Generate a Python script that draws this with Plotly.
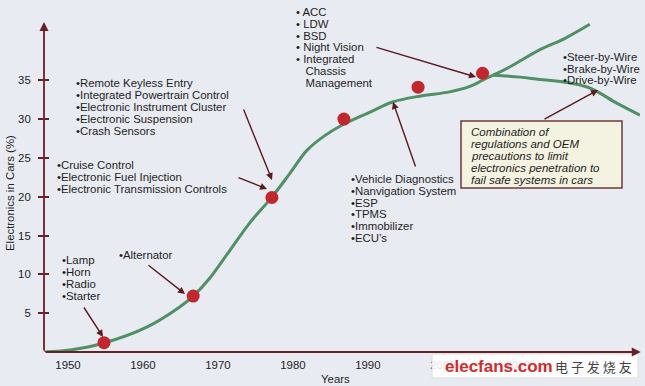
import plotly.graph_objects as go

# ---------------- data ----------------
curve_years = [1946.8, 1950.3, 1954.8, 1960.5, 1964.9, 1966.7, 1968.9, 1971.6, 1974.3, 1977.2,
               1979.6, 1981.9, 1984.3, 1986.7, 1990.3, 1993.3, 1996.9, 2000.9, 2003.6, 2005.3, 2006.7]
curve_values = [0.0, 0.26, 1.16, 3.2, 5.8, 7.2, 9.5, 13.1, 16.7, 19.95,
                23.0, 26.0, 27.9, 29.3, 30.9, 32.2, 32.95, 33.5, 34.2, 35.0, 35.65]
upper_years = [2006.7, 2008.9, 2012.9, 2016.3, 2019.6]
upper_values = [35.65, 36.7, 38.9, 40.4, 42.2]
lower_years = [2006.7, 2010.3, 2012.9, 2016.3, 2019.6, 2023.2, 2026.3]
lower_values = [35.65, 35.4, 35.1, 34.75, 34.0, 32.05, 30.5]

dot_years = [1954.8, 1966.7, 1977.2, 1986.8, 1996.7, 2005.3]
dot_values = [1.2, 7.2, 19.9, 30.0, 34.1, 35.9]

x_ticks = [1950, 1960, 1970, 1980, 1990, 2000, 2010]
y_ticks = [5, 10, 15, 20, 25, 30, 35]

block_lamp = ["•Lamp", "•Horn", "•Radio", "•Starter"]
block_alt = ["•Alternator"]
block_cruise = ["•Cruise Control", "•Electronic Fuel Injection", "•Electronic Transmission Controls"]
block_remote = ["•Remote Keyless Entry", "•Integrated Powertrain Control",
                "•Electronic Instrument Cluster", "•Electronic Suspension", "•Crash Sensors"]
block_acc = ["• ACC", "• LDW", "• BSD", "• Night Vision", "• Integrated", "   Chassis", "   Management"]
block_vd = ["•Vehicle Diagnostics", "•Nanvigation System", "•ESP", "•TPMS", "•Immobilizer", "•ECU’s"]
block_wire = ["•Steer-by-Wire", "•Brake-by-Wire", "•Drive-by-Wire"]
block_box = ["Combination of", "regulations and OEM", "precautions to limit",
             "electronics penetration to", "fail safe systems in cars"]

# ---------------- layout constants ----------------
W, H = 645, 386
L, R, T, B = 44, 5, 22, 34
PW, PH = W - L - R, H - T - B
X_RANGE = [1946.8, 2026.3]
Y_RANGE = [0, 42.5]

BG = "#e9ebf2"
AXC = "#6b1f25"
ARROWC = "#5a1a1f"
GREEN = "#4f9165"
RED = "#c1272d"
TXT = "#1e1e1e"
FONT = "Liberation Sans, Arial, Helvetica, sans-serif"
FS = 11.4


def PX(x):
    return (x - L) / PW


def PY(y):
    return (H - B - y) / PH


fig = go.Figure()

fig.add_trace(go.Scatter(x=curve_years, y=curve_values, mode="lines",
                         line=dict(color=GREEN, width=3, shape="spline"), hoverinfo="skip"))
fig.add_trace(go.Scatter(x=upper_years, y=upper_values, mode="lines",
                         line=dict(color=GREEN, width=3, shape="spline"), hoverinfo="skip"))
fig.add_trace(go.Scatter(x=lower_years, y=lower_values, mode="lines",
                         line=dict(color=GREEN, width=3, shape="spline"), hoverinfo="skip"))
fig.add_trace(go.Scatter(x=dot_years, y=dot_values, mode="markers",
                         marker=dict(color=RED, size=13, line=dict(width=0)), hoverinfo="skip"))
fig.add_trace(go.Scatter(x=[], y=[], yaxis="y2", hoverinfo="skip"))

annotations = []


def add_lines(lines, x, y0, dy=12, size=FS, italic=False):
    for i, t in enumerate(lines):
        annotations.append(dict(
            x=PX(x), y=PY(y0 + i * dy), xref="paper", yref="paper",
            text=("<i>%s</i>" % t) if italic else t, showarrow=False,
            xanchor="left", yanchor="middle", borderpad=0,
            font=dict(family=FONT, size=size, color=TXT)))


add_lines(block_lamp, 61, 260)
add_lines(block_alt, 118, 255)
add_lines(block_cruise, 56, 165)
add_lines(block_remote, 75, 83)
add_lines(block_acc, 295, 12, dy=11.8)
add_lines(block_vd, 350, 179, dy=11.8)
add_lines(block_wire, 562, 57, dy=11.6)
add_lines(block_box, 470, 132, dy=12, size=11.5, italic=True)

# arrows (tail -> head in pixels)
arrows = [((83, 306), (103, 337)), ((147, 264), (185, 294)), ((243, 108), (272, 180)),
          ((237, 177), (267, 189)), ((375, 47), (476, 77)), ((416, 168), (393, 102)),
          ((543, 120), (598, 90))]
for (tx, ty), (hx, hy) in arrows:
    annotations.append(dict(x=PX(hx), y=PY(hy), xref="paper", yref="paper",
                            ax=tx - hx, ay=ty - hy, text="", showarrow=True,
                            arrowhead=2, arrowsize=1.0, arrowwidth=1.4, arrowcolor=ARROWC,
                            standoff=0))

# axis lines with arrowheads
annotations.append(dict(x=X_RANGE[0], y=Y_RANGE[1], xref="x", yref="y",
                        ax=X_RANGE[0], ay=0, axref="x", ayref="y", text="", showarrow=True,
                        arrowhead=2, arrowsize=1, arrowwidth=1.8, arrowcolor=AXC, standoff=0))
annotations.append(dict(x=X_RANGE[1] + 0.1, y=0, xref="x", yref="y",
                        ax=X_RANGE[0], ay=0, axref="x", ayref="y", text="", showarrow=True,
                        arrowhead=2, arrowsize=1, arrowwidth=1.8, arrowcolor=AXC, standoff=0))

# axis titles
annotations.append(dict(x=PX(335), y=PY(379), xref="paper", yref="paper", text="Years",
                        showarrow=False, xanchor="center", yanchor="middle", borderpad=0,
                        font=dict(family=FONT, size=FS, color=TXT)))
annotations.append(dict(x=PX(10), y=PY(193), xref="paper", yref="paper",
                        text="Electronics in Cars (%)", textangle=-90, borderpad=0,
                        showarrow=False, xanchor="center", yanchor="middle",
                        font=dict(family=FONT, size=FS, color=TXT)))

# watermark
annotations.append(dict(x=PX(444), y=PY(366), xref="paper", yref="paper",
                        text="<b>elecfans.com</b>", showarrow=False, xanchor="left", yanchor="middle",
                        borderpad=0, font=dict(family=FONT, size=17, color="#d42a2a")))
annotations.append(dict(x=PX(554), y=PY(366), xref="paper", yref="paper",
                        text="电 子 发 烧 友", showarrow=False, xanchor="left", yanchor="middle",
                        borderpad=0, font=dict(family="Noto Sans CJK SC", size=13, color="#444444")))

shapes = [
    dict(type="rect", xref="paper", yref="paper", x0=PX(461), x1=PX(622), y0=PY(121), y1=PY(188),
         fillcolor="#f4f3e1", line=dict(color="#6e3a3a", width=1.5), layer="above"),
    dict(type="rect", xref="paper", yref="paper", x0=PX(432), x1=PX(638), y0=PY(354), y1=PY(378),
         fillcolor="rgba(255,255,255,0.88)", line=dict(color="#dddddd", width=1), layer="above"),
]

fig.update_layout(
    width=W, height=H,
    margin=dict(l=L, r=R, t=T, b=B, pad=0, autoexpand=False),
    paper_bgcolor=BG, plot_bgcolor=BG,
    showlegend=False,
    font=dict(family=FONT, size=FS, color=TXT),
    xaxis=dict(range=X_RANGE, tickvals=x_ticks, ticktext=[str(v) for v in x_ticks],
               showgrid=False, zeroline=False, showline=False, ticks="", automargin=False,
               ticklabelstandoff=5, tickfont=dict(size=FS, color=TXT)),
    yaxis=dict(range=Y_RANGE, tickvals=y_ticks, ticktext=[str(v) for v in y_ticks],
               showgrid=False, zeroline=False, showline=False, ticks="outside", automargin=False,
               ticklen=5, tickwidth=1.5, tickcolor=AXC, ticklabelstandoff=5,
               tickfont=dict(size=FS, color=TXT)),
    yaxis2=dict(range=Y_RANGE, tickvals=y_ticks, overlaying="y", side="left", automargin=False,
                showgrid=False, zeroline=False, showline=False, ticks="inside",
                ticklen=5, tickwidth=1.5, tickcolor=AXC, showticklabels=False),
    annotations=annotations,
    shapes=shapes,
)

fig.write_html("out.html", config={"displayModeBar": False},
               post_script="document.body.style.margin='0px';document.body.style.background='%s';" % BG)
